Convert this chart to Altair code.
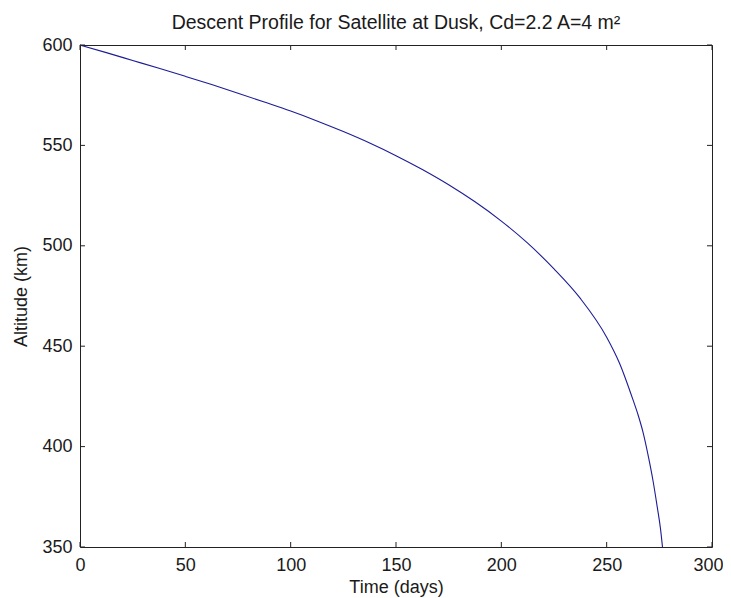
import altair as alt
import pandas as pd

# Curve
days = [0, 12.5, 25, 37.5, 50, 62.5, 75, 87.5, 100, 112.5, 125, 137.5, 150, 162.5, 175, 187.5,
        200, 212.5, 225, 237.5, 250, 256, 262.6, 265, 267.3, 270, 272, 274, 275.5, 276.5]
altitude_km = [600, 596.2, 592.3, 588.4, 584.4, 580.3, 576.0, 571.6, 567.1, 562.2, 556.9, 551.2,
               544.9, 538.0, 530.4, 521.9, 512.3, 501.3, 488.5, 473.8, 454.5, 441.8, 423, 415.5,
               407, 394, 383, 370, 359.5, 350]

x_ticks = [0, 50, 100, 150, 200, 250, 300]
y_ticks = [350, 400, 450, 500, 550, 600]

W, H = 632, 502
FONT = "Liberation Sans"
TXT = "#1a1a1a"

df = pd.DataFrame({"t": days, "h": altitude_km})
xt = pd.DataFrame({"v": x_ticks})
yt = pd.DataFrame({"v": y_ticks})

xs = alt.Scale(domain=[0, 300], nice=False, zero=False)
ys = alt.Scale(domain=[350, 600], nice=False, zero=False)

line = alt.Chart(df).mark_line(color="#1c1c96", strokeWidth=1.1, interpolate="monotone").encode(
    x=alt.X("t:Q", scale=xs,
            axis=alt.Axis(values=x_ticks, title="Time (days)", grid=False, domain=False, ticks=False,
                          labelFlush=False, labelPadding=9, titlePadding=4, titleFontWeight="normal",
                          labelOffset={"condition": {"test": "datum.value == 300", "value": -4},
                                       "value": 0})),
    y=alt.Y("h:Q", scale=ys,
            axis=alt.Axis(values=y_ticks, title="Altitude (km)", grid=False, domain=False, ticks=False,
                          labelFlush=False, labelPadding=8, titlePadding=11, titleFontWeight="normal")),
)

tick_color = "#222222"
bottom = alt.Chart(xt).mark_rule(color=tick_color, strokeWidth=1).encode(
    x=alt.X("v:Q", scale=xs), y=alt.value(H), y2=alt.value(H - 5))
top = alt.Chart(xt).mark_rule(color=tick_color, strokeWidth=1).encode(
    x=alt.X("v:Q", scale=xs), y=alt.value(0), y2=alt.value(5))
left = alt.Chart(yt).mark_rule(color=tick_color, strokeWidth=1).encode(
    y=alt.Y("v:Q", scale=ys), x=alt.value(0), x2=alt.value(5))
right = alt.Chart(yt).mark_rule(color=tick_color, strokeWidth=1).encode(
    y=alt.Y("v:Q", scale=ys), x=alt.value(W), x2=alt.value(W - 5))

chart = alt.layer(line, bottom, top, left, right).properties(
    width=W, height=H,
    title=alt.TitleParams("Descent Profile for Satellite at Dusk, Cd=2.2 A=4 m\u00b2",
                          font=FONT, fontSize=19.5, fontWeight="normal", color=TXT,
                          anchor="middle", offset=3),
    autosize=alt.AutoSizeParams(type="none"),
    padding={"left": 72, "top": 37, "right": 11, "bottom": 51},
).configure(
    background="white"
).configure_view(
    stroke="#222222", strokeWidth=1
).configure_axis(
    domain=False, ticks=False, grid=False,
    labelFont=FONT, labelFontSize=18, labelColor=TXT,
    titleFont=FONT, titleFontSize=18, titleFontWeight="normal", titleColor=TXT,
)

chart.save("out.html", embed_options={"renderer": "svg", "actions": False})
